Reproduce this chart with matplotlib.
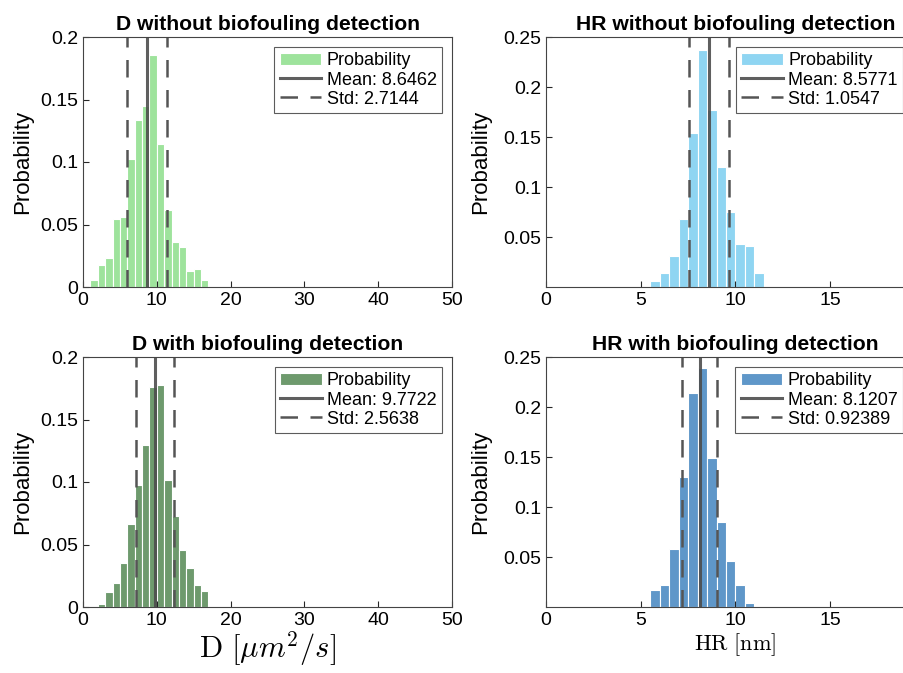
import matplotlib
matplotlib.use("Agg")
import matplotlib.pyplot as plt
import numpy as np

plt.rcParams['font.family'] = ['Liberation Sans', 'DejaVu Sans']
plt.rcParams['mathtext.fontset'] = 'cm'

# D without biofouling detection (bin width 1, edges 1..17)
d_wo_start = 1
d_wo = [0.0059, 0.0173, 0.0229, 0.0545, 0.0564, 0.1024, 0.1340, 0.1447,
        0.1856, 0.1144, 0.0620, 0.0362, 0.0322, 0.0125, 0.0146, 0.0059]
d_wo_mean, d_wo_std = 8.6462, 2.7144

# D with biofouling detection (bin width 1, edges 2..17)
d_w_start = 2
d_w = [0.0024, 0.0117, 0.0189, 0.0354, 0.0668, 0.0979, 0.1298, 0.1758,
       0.1779, 0.1013, 0.0729, 0.0455, 0.0309, 0.0173, 0.0125]
d_w_mean, d_w_std = 9.7722, 2.5638

# HR without biofouling detection (bin width 0.5, edges 5.5..11.5)
hr_wo_start = 5.5
hr_wo = [0.0060, 0.0143, 0.0306, 0.0681, 0.1538, 0.2372, 0.1774, 0.1203,
         0.0754, 0.0429, 0.0412, 0.0143]
hr_wo_mean, hr_wo_std = 8.5771, 1.0547

# HR with biofouling detection (bin width 0.5, edges 5.5..11)
hr_w_start = 5.5
hr_w = [0.0166, 0.0219, 0.0581, 0.1299, 0.2136, 0.2389, 0.1488, 0.0850,
        0.0462, 0.0219, 0.0040]
hr_w_mean, hr_w_std = 8.1207, 0.92389

fig = plt.figure(figsize=(9.04, 6.73), dpi=100)

W, H = 904.0, 673.0
def make_ax(x0, x1, ytop, ybot):
    return fig.add_axes([x0 / W, 1 - ybot / H, (x1 - x0) / W, (ybot - ytop) / H])

ax1 = make_ax(83, 452, 37, 287)
ax2 = make_ax(546, 925, 37, 287)
ax3 = make_ax(83, 452, 357, 607)
ax4 = make_ax(546, 925, 357, 607)

panels = [
    (ax1, d_wo_start, 1.0, d_wo, d_wo_mean, d_wo_std, '#9ee39c',
     'D without biofouling detection', (0, 50), 0.2),
    (ax2, hr_wo_start, 0.5, hr_wo, hr_wo_mean, hr_wo_std, '#8fd5f2',
     'HR without biofouling detection', (0, 20), 0.25),
    (ax3, d_w_start, 1.0, d_w, d_w_mean, d_w_std, '#6e9a6d',
     'D with biofouling detection', (0, 50), 0.2),
    (ax4, hr_w_start, 0.5, hr_w, hr_w_mean, hr_w_std, '#5f97c9',
     'HR with biofouling detection', (0, 20), 0.25),
]

for ax, start, bw, vals, mu, sd, col, title, xl, ymax in panels:
    edges = start + bw * np.arange(len(vals))
    b = ax.bar(edges, vals, width=bw, align='edge', color=col, edgecolor='white',
               linewidth=0.8)
    m = ax.axvline(mu, color='#4d4d4d', lw=2.2, alpha=0.9)
    s1 = ax.axvline(mu - sd, color='#555555', lw=1.8, dashes=(7, 5))
    ax.axvline(mu + sd, color='#555555', lw=1.8, dashes=(7, 5))
    ax.set_xlim(xl)
    ax.set_ylim(0, ymax)
    ax.set_title(title, fontsize=15.2, fontweight='bold', pad=5)
    ax.set_ylabel('Probability', fontsize=16)
    ax.tick_params(direction='in', labelsize=14, length=4, colors='#262626',
                   labelcolor='black')
    for sp in ax.spines.values():
        sp.set_color('#444444')
        sp.set_linewidth(0.8)
    if ymax == 0.2:
        ax.set_yticks([0, 0.05, 0.1, 0.15, 0.2])
        ax.set_yticklabels(['0', '0.05', '0.1', '0.15', '0.2'])
        ax.set_xticks([0, 10, 20, 30, 40, 50])
        anchor = (0.973, 0.96)
    else:
        ax.set_yticks([0.05, 0.1, 0.15, 0.2, 0.25])
        ax.set_yticklabels(['0.05', '0.1', '0.15', '0.2', '0.25'])
        ax.set_xticks([0, 5, 10, 15])
        anchor = (0.942, 0.96)
    leg = ax.legend([b, m, s1], ['Probability', 'Mean: %g' % mu, 'Std: %g' % sd],
                    loc='upper right', fontsize=13, frameon=True, fancybox=False,
                    handlelength=2.3, borderpad=0.3, labelspacing=0.12,
                    handletextpad=0.3, borderaxespad=0, bbox_to_anchor=anchor)
    leg.get_frame().set_edgecolor('#333333')
    leg.get_frame().set_linewidth(0.8)

ax1.yaxis.set_label_coords(-0.135, 0.5)
ax3.yaxis.set_label_coords(-0.135, 0.5)
ax2.yaxis.set_label_coords(-0.145, 0.5)
ax4.yaxis.set_label_coords(-0.145, 0.5)

ax3.set_xlabel(r'$\mathrm{D}\ [\mu m^2/s]$', fontsize=22, labelpad=0)
ax4.set_xlabel(r'$\mathrm{HR}\ [\mathrm{nm}]$', fontsize=16, labelpad=2)

fig.savefig('out.png', dpi=100)
